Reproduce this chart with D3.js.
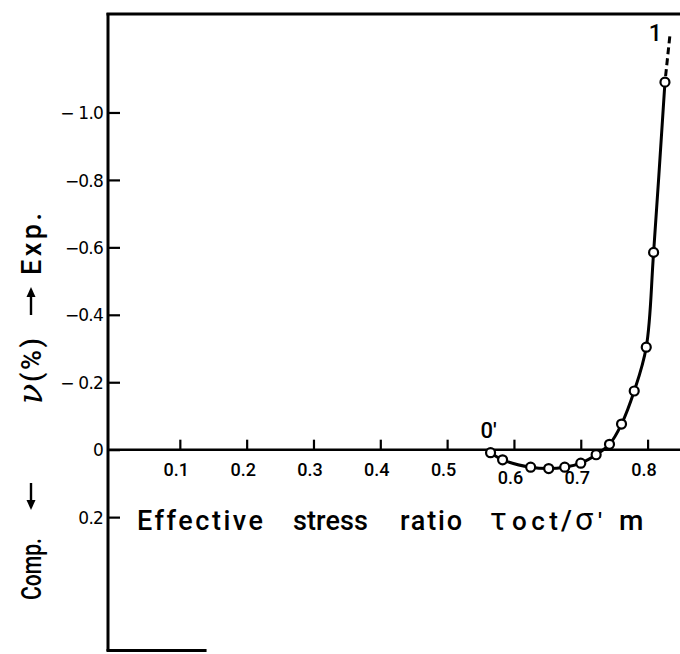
<!DOCTYPE html>
<html>
<head>
<meta charset="utf-8">
<script src="https://cdn.jsdelivr.net/npm/d3@7"></script>
<style>
  html, body { margin: 0; padding: 0; background: #fff; }
  svg { display: block; }
  text { font-family: Roboto, "DejaVu Sans", sans-serif; font-weight: 500; fill: #000; }
</style>
</head>
<body>
<svg id="chart" width="680" height="654"></svg>
<script>
// Effective stress ratio (tau_oct / sigma'_m) and volumetric strain v (%)
// negative v = expansion (up), positive v = compression (down)
const stressRatio = [0.565, 0.583, 0.625, 0.652, 0.676, 0.700, 0.723, 0.743, 0.761, 0.780, 0.798, 0.809, 0.826];
const volStrain   = [0.009, 0.030, 0.052, 0.056, 0.052, 0.040, 0.015, -0.016, -0.076, -0.174, -0.304, -0.585, -1.090];

// dashed continuation of the curve past the last reading
const extRatio  = [0.826, 0.834];
const extStrain = [-1.090, -1.240];

const xTicks = [0.1, 0.2, 0.3, 0.4, 0.5, 0.6, 0.7, 0.8];
const xTickLabels = ["0.1", "0.2", "0.3", "0.4", "0.5", "0.6", "0.7", "0.8"];
const yTicks = [-1.0, -0.8, -0.6, -0.4, -0.2, 0, 0.2];
const yTickLabels = ["− 1.0", "−0.8", "−0.6", "−0.4", "− 0.2", "0", "0.2"];

const svg = d3.select("#chart");

const x = d3.scaleLinear().domain([-0.0075, 0.85]).range([108, 681]);
const y = d3.scaleLinear().domain([-1.295, 0.6]).range([13, 652]);

const ink = "#000";
const x0 = x(-0.0075);

// frame: left side, top, short piece of the bottom
const frame = svg.append("g").attr("fill", "none").attr("stroke", ink);
frame.append("line")
  .attr("x1", x0).attr("x2", x0)
  .attr("y1", y(-1.295)).attr("y2", y(0.6) - 1)
  .attr("stroke-width", 3);
frame.append("line")
  .attr("x1", x0 - 1.5).attr("x2", 680)
  .attr("y1", y(-1.295) + 1).attr("y2", y(-1.295) + 1)
  .attr("stroke-width", 3);
frame.append("line")
  .attr("x1", x0 - 1.5).attr("x2", x(0.14))
  .attr("y1", y(0.6) - 1.5).attr("y2", y(0.6) - 1.5)
  .attr("stroke-width", 3);

// y axis: ticks pointing into the plot, labels on the left
const yAxis = d3.axisRight(y)
  .tickValues(yTicks)
  .tickSize(12)
  .tickFormat((d, i) => yTickLabels[i]);
const gy = svg.append("g")
  .attr("transform", `translate(${x0},0)`)
  .call(yAxis);
gy.select(".domain").remove();
gy.selectAll(".tick line").attr("stroke", ink).attr("stroke-width", 2.2);
gy.selectAll(".tick text")
  .attr("x", -5).attr("dy", "0.36em")
  .attr("text-anchor", "end")
  .style("font-family", "'DejaVu Sans', sans-serif")
  .style("font-weight", 400)
  .style("letter-spacing", "-0.8px")
  .style("font-size", "17px");

// x axis drawn along v = 0, ticks pointing up
const xAxis = d3.axisBottom(x)
  .tickValues(xTicks)
  .tickSize(-10)
  .tickFormat((d, i) => xTickLabels[i]);
const gx = svg.append("g")
  .attr("transform", `translate(0,${y(0)})`)
  .call(xAxis);
gx.select(".domain").remove();
gx.append("line")
  .attr("x1", x0).attr("x2", 680)
  .attr("y1", 0).attr("y2", 0)
  .attr("stroke", ink).attr("stroke-width", 2.5);
gx.selectAll(".tick line").attr("stroke", ink).attr("stroke-width", 2.2);
// labels under the compression dip of the curve sit a little lower
const dipMin = stressRatio[0], dipMax = stressRatio[volStrain.findIndex(v => v < 0)];
gx.selectAll(".tick text")
  .attr("y", d => (d > dipMin && d < dipMax) ? 22 : 14)
  .attr("dx", -4).attr("dy", "0.71em")
  .style("font-size", "18px");

// x axis title
const words = [
  { t: "Effective", x: 137, w: 126 },
  { t: "stress", x: 293, w: 75 },
  { t: "ratio", x: 400, w: 62 }
];
svg.append("g").selectAll("text")
  .data(words)
  .join("text")
  .attr("x", d => d.x).attr("y", 530)
  .attr("textLength", d => d.w)
  .attr("lengthAdjust", "spacing")
  .style("font-size", "27px")
  .text(d => d.t);

const ratio = svg.append("text").attr("y", 530).style("font-size", "26px");
ratio.append("tspan").attr("x", 490).style("font-size", "32px").style("font-weight", 400).text("τ");
ratio.append("tspan").attr("x", 512).attr("textLength", 46).attr("lengthAdjust", "spacing").text("oct");
ratio.append("tspan").attr("x", 561).style("font-size", "28px").text("/");
ratio.append("tspan").attr("x", 575).style("font-size", "32px").style("font-weight", 400).text("σ");
ratio.append("tspan").attr("x", 598).style("font-size", "24px").text("′");
ratio.append("tspan").attr("x", 619).style("font-size", "28px").text("m");

// y axis title, read bottom to top: Comp. ↓  ν (%)  ↑ Exp.
const yTitle = [
  { t: "Comp.", c: 569, w: 62, fit: "spacingAndGlyphs" },
  { t: "(%)", c: 360, w: 44, fit: "spacing" },
  { t: "Exp.", c: 244, w: 62, fit: "spacing" }
];
svg.append("g").selectAll("text")
  .data(yTitle)
  .join("text")
  .attr("transform", d => `translate(41,${d.c}) rotate(-90)`)
  .attr("x", d => -d.w / 2)
  .attr("textLength", d => d.w)
  .attr("lengthAdjust", d => d.fit)
  .style("font-size", "27px")
  .text(d => d.t);
svg.append("text")
  .attr("transform", "translate(42,394) rotate(-90)")
  .attr("text-anchor", "middle")
  .style("font-family", "'DejaVu Serif', serif")
  .style("font-style", "italic")
  .style("font-weight", 400)
  .style("font-size", "34px")
  .text("ν");

// arrows beside the strain axis title
const arrows = [
  { from: 483, to: 510 },   // toward compression
  { from: 315, to: 287 }    // toward expansion
];
const ag = svg.append("g");
arrows.forEach(a => {
  const dir = Math.sign(a.to - a.from);
  ag.append("line")
    .attr("x1", 31).attr("x2", 31)
    .attr("y1", a.from).attr("y2", a.to - dir * 6)
    .attr("stroke", ink).attr("stroke-width", 2.4);
  ag.append("path")
    .attr("d", `M${31 - 4.5},${a.to - dir * 10} L${31 + 4.5},${a.to - dir * 10} L31,${a.to} Z`)
    .attr("fill", ink);
});

// strain curve
const pts = stressRatio.map((r, i) => [r, volStrain[i]]);
const line = d3.line()
  .x(d => x(d[0]))
  .y(d => y(d[1]))
  .curve(d3.curveCatmullRom.alpha(0.5));

svg.append("path")
  .datum(pts)
  .attr("d", line)
  .attr("fill", "none")
  .attr("stroke", ink)
  .attr("stroke-width", 3)
  .attr("stroke-linejoin", "round");

svg.append("path")
  .datum(extRatio.map((r, i) => [r, extStrain[i]]))
  .attr("d", d3.line().x(d => x(d[0])).y(d => y(d[1])))
  .attr("fill", "none")
  .attr("stroke", ink)
  .attr("stroke-width", 3)
  .attr("stroke-dasharray", "0 6 7 4 7 4 7 4 7 4");

svg.append("g").selectAll("circle")
  .data(pts)
  .join("circle")
  .attr("cx", d => x(d[0]))
  .attr("cy", d => y(d[1]))
  .attr("r", 4.5)
  .attr("fill", "#fff")
  .attr("stroke", ink)
  .attr("stroke-width", 2.2);

// curve end labels
svg.append("text")
  .attr("x", x(stressRatio[0]) - 2)
  .attr("y", y(volStrain[0]) - 15)
  .attr("text-anchor", "middle")
  .style("font-size", "22px")
  .text("0′");
svg.append("text")
  .attr("x", x(extRatio[1]) - 15)
  .attr("y", y(extStrain[1]) + 9)
  .attr("text-anchor", "middle")
  .style("font-size", "23px")
  .text("1");
</script>
</body>
</html>
